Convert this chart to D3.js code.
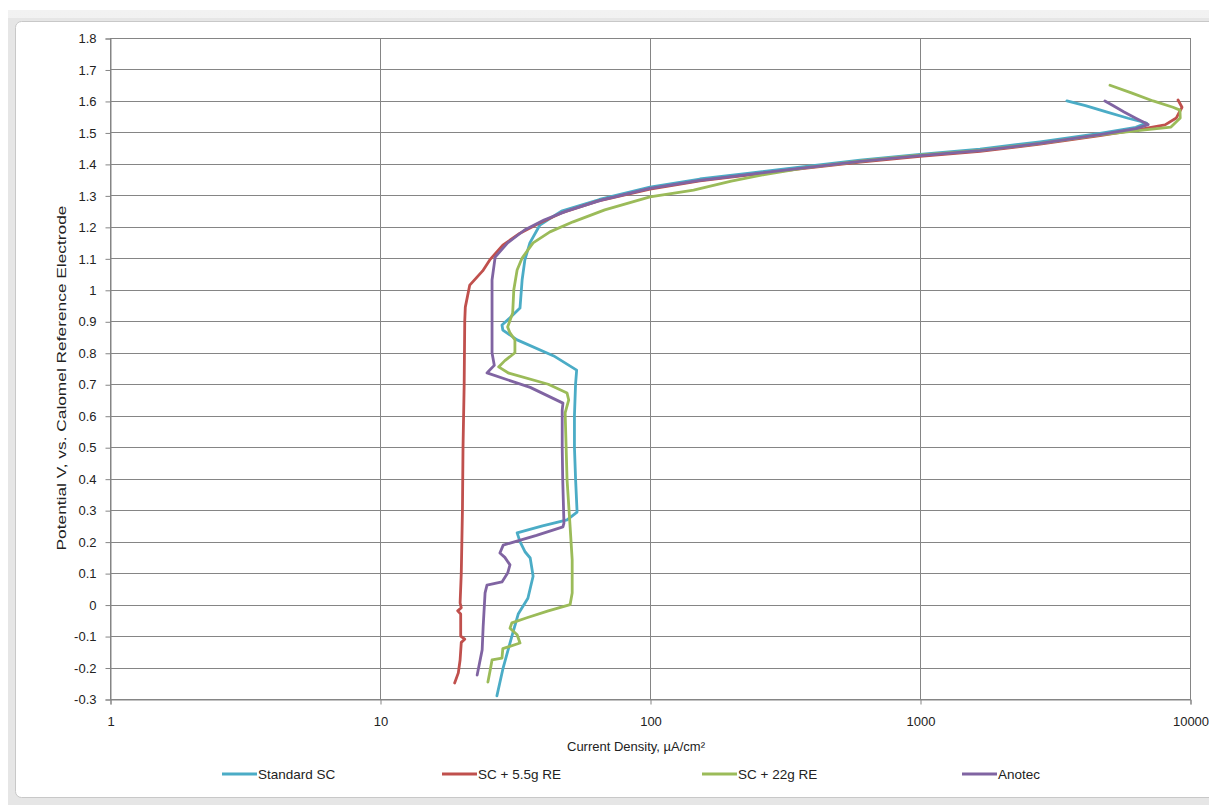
<!DOCTYPE html>
<html><head><meta charset="utf-8">
<script src="https://cdn.jsdelivr.net/npm/d3@7"></script>
<style>
html,body{margin:0;padding:0;background:#fff;}
text{font-family:"Liberation Sans Narrow","Liberation Sans",Arial,sans-serif;fill:#222;}
</style></head>
<body>
<svg id="chart" width="1209" height="805"></svg>
<script>
// ---- data (potential in V vs SCE, current density in µA/cm²) ----
const seriesNames = ["Standard SC", "SC + 5.5g RE", "SC + 22g RE", "Anotec"];
const seriesColors = ["#4BACC6", "#C0504D", "#9BBB59", "#8064A2"];

const stdV = [-0.29,-0.2,-0.1,-0.03,0.02,0.09,0.11,0.148,0.167,0.2,0.228,0.25,0.269,0.294,0.4,0.5,0.6,0.7,0.745,0.79,0.841,0.872,0.888,0.911,0.942,1.031,1.095,1.149,1.206,1.25,1.287,1.326,1.352,1.371,1.39,1.412,1.43,1.447,1.47,1.497,1.516,1.53,1.545,1.565,1.585,1.6];
const stdI = [27.1,28.6,30.8,32.5,35.3,36.9,36.6,36.0,34.5,33.0,32.2,40,49.3,53.7,53.0,52.5,52.5,53.0,53.5,44,32.2,28.5,28.3,30.3,33.0,33.6,34.4,35.9,39.1,47,65,100,153,234,359,600,1000,1668,2783,4642,6300,6900,5900,4900,4100,3500];

const reV = [-0.249,-0.217,-0.176,-0.12,-0.11,-0.1,-0.03,-0.02,-0.01,0.005,0.1,0.3,0.5,0.7,0.9,0.945,1.015,1.06,1.095,1.142,1.18,1.212,1.244,1.282,1.32,1.346,1.365,1.384,1.406,1.424,1.44,1.463,1.49,1.51,1.524,1.546,1.58,1.603];
const reI = [18.9,19.5,19.8,20.0,20.6,19.9,19.9,19.4,20.0,19.8,20.0,20.2,20.3,20.5,20.6,20.7,21.5,24.0,25.5,28.5,33,39,47,64,100,153,234,359,600,1000,1668,2783,4642,6530,8080,8900,9340,9030];

const grV = [-0.246,-0.208,-0.176,-0.17,-0.14,-0.122,-0.096,-0.075,-0.058,-0.042,-0.02,0.0,0.037,0.142,0.247,0.396,0.609,0.65,0.672,0.7,0.735,0.755,0.775,0.8,0.841,0.863,0.882,0.926,1.0,1.063,1.101,1.149,1.184,1.216,1.254,1.295,1.317,1.345,1.366,1.388,1.41,1.428,1.443,1.465,1.492,1.508,1.517,1.546,1.571,1.58,1.6,1.625,1.65];
const grI = [25.1,25.6,26.0,28.3,28.5,33.0,32.2,30.3,30.8,35.0,42,50.6,51.5,51.5,50.6,49.3,48.5,50.0,49.3,42,30,27.5,29,31.6,31.6,30.3,29.7,31.0,31.3,32.2,33.6,36.9,42.6,51.9,68,100,145,200,265,380,620,1000,1668,2783,4642,6800,8500,9200,9180,8650,7300,6100,5055];

const anV = [-0.224,-0.144,-0.071,0.037,0.062,0.072,0.10,0.126,0.15,0.164,0.189,0.22,0.247,0.259,0.4,0.5,0.618,0.64,0.69,0.736,0.745,0.76,0.799,0.9,1.031,1.104,1.149,1.19,1.222,1.25,1.285,1.322,1.348,1.367,1.386,1.408,1.426,1.442,1.465,1.493,1.512,1.525,1.545,1.565,1.585,1.6];
const anI = [22.9,23.9,24.1,24.5,24.9,28.3,29.7,30.3,29.0,27.8,28.6,38,47.6,48.0,47.5,47.3,47.3,47.6,36,24.9,25.5,26.5,26.0,26.0,26.0,26.7,29.7,34.3,40.5,49,66,100,153,234,359,600,1000,1668,2783,4642,6300,7000,6300,5700,5200,4840];

const yTicks = [-0.3,-0.2,-0.1,0,0.1,0.2,0.3,0.4,0.5,0.6,0.7,0.8,0.9,1,1.1,1.2,1.3,1.4,1.5,1.6,1.7,1.8];
const xTicks = [1,10,100,1000,10000];
const xTitle = "Current Density, µA/cm²";
const yTitle = "Potential V, vs. Calomel Reference Electrode";

const seriesV = [stdV, reV, grV, anV];
const seriesI = [stdI, reI, grI, anI];

// ---- drawing ----
const svg = d3.select("#chart");
const L = 110, R = 1190, T = 38, B = 699;
const x = d3.scaleLog().domain([1, 10000]).range([L, R]);
const y = d3.scaleLinear().domain([-0.3, 1.8]).range([B, T]);

// frame
const defs = svg.append("defs");
const g1 = defs.append("linearGradient").attr("id","topband").attr("x1",0).attr("y1",0).attr("x2",0).attr("y2",1);
g1.append("stop").attr("offset","0%").attr("stop-color","#f2f2f2");
g1.append("stop").attr("offset","100%").attr("stop-color","#d4d4d4");
svg.append("rect").attr("x",8).attr("y",10).attr("width",1210).attr("height",800).attr("fill","url(#topband)");
svg.append("rect").attr("x",8).attr("y",18).attr("width",1210).attr("height",790).attr("fill","#e6e6e6");
svg.append("rect").attr("x",15.5).attr("y",21.5).attr("width",1200).attr("height",776)
  .attr("rx",6).attr("fill","#fff").attr("stroke","#c8c8c8").attr("stroke-width",1);

const gridColor = "#858585";
svg.append("g").selectAll("line").data(yTicks).join("line")
  .attr("x1", L).attr("x2", R)
  .attr("y1", d => Math.round(y(d)) + 0.5).attr("y2", d => Math.round(y(d)) + 0.5)
  .attr("stroke", gridColor).attr("stroke-width", 1);
svg.append("g").selectAll("line").data(xTicks).join("line")
  .attr("x1", d => Math.round(x(d)) + 0.5).attr("x2", d => Math.round(x(d)) + 0.5)
  .attr("y1", T).attr("y2", B)
  .attr("stroke", gridColor).attr("stroke-width", 1);

// axes
const fmtY = d => String(+d.toFixed(1));
const yAxis = d3.axisLeft(y).tickValues(yTicks).tickFormat(fmtY).tickSize(5).tickPadding(9);
const gy = svg.append("g").attr("transform", `translate(${L + 0.5},0.5)`).call(yAxis);
const xAxis = d3.axisBottom(x).tickValues(xTicks).tickFormat(d3.format("d")).tickSize(5).tickPadding(12);
const gx = svg.append("g").attr("transform", `translate(0.5,${B + 0.5})`).call(xAxis);
[gy, gx].forEach(g => {
  g.select(".domain").attr("stroke", gridColor);
  g.selectAll(".tick line").attr("stroke", gridColor);
  g.selectAll(".tick text").attr("fill", "#222").style("font-size", "13px")
    .style("font-family", '"Liberation Sans Narrow","Liberation Sans",Arial,sans-serif');
});
svg.append("rect").attr("x", L + 0.5).attr("y", T + 0.5).attr("width", R - L).attr("height", B - T)
  .attr("fill", "none").attr("stroke", gridColor);

// series lines
const line = d3.line().x(d => x(d[1])).y(d => y(d[0]));
seriesNames.forEach((name, k) => {
  const pts = seriesV[k].map((v, j) => [v, seriesI[k][j]]);
  svg.append("path").datum(pts).attr("d", line)
    .attr("fill", "none").attr("stroke", seriesColors[k])
    .attr("stroke-width", 2.8).attr("stroke-linejoin", "round").attr("stroke-linecap", "round");
});

// titles
svg.append("text").attr("x", 636).attr("y", 751).attr("text-anchor", "middle")
  .style("font-size", "13px").text(xTitle);
svg.append("text").attr("transform", `translate(66,378) rotate(-90)`).attr("text-anchor", "middle")
  .style("font-size", "13px").attr("textLength", 345).attr("lengthAdjust", "spacingAndGlyphs").text(yTitle);

// legend
const legX = [222, 442, 702, 962];
const legY = 774;
const leg = svg.append("g").selectAll("g").data(seriesNames).join("g")
  .attr("transform", (d, k) => `translate(${legX[k]},${legY})`);
leg.append("line").attr("x1", 0).attr("x2", 35).attr("y1", 0).attr("y2", 0)
  .attr("stroke", (d, k) => seriesColors[k]).attr("stroke-width", 2.8);
leg.append("text").attr("x", 36).attr("y", 4.5).style("font-size", "13.5px").text(d => d);
</script>
</body></html>
